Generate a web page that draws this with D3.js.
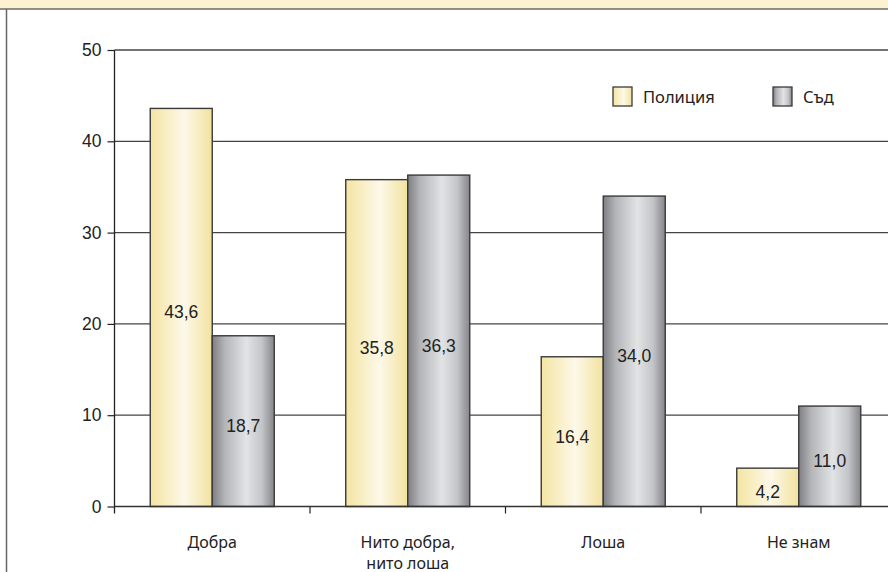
<!DOCTYPE html>
<html>
<head>
<meta charset="utf-8">
<script src="https://cdn.jsdelivr.net/npm/d3@7"></script>
<style>
  body { margin: 0; background: #fff; }
  svg { display: block; }
</style>
</head>
<body>
<div id="chart"></div>
<script>
// data
var categories = [['Добра'], ['Нито добра,', 'нито лоша'], ['Лоша'], ['Не знам']];
var seriesNames = ['Полиция', 'Съд'];
var police = [43.6, 35.8, 16.4, 4.2];
var court = [18.7, 36.3, 34.0, 11.0];
var yTicks = [0, 10, 20, 30, 40, 50];

var svgWidth = 888;
var svgHeight = 572;

var margins = { top: 50, bottom: 65.5, left: 114.5, right: -8.5 };
var height = svgHeight - margins.top - margins.bottom;
var width = svgWidth - margins.left - margins.right;

var svg = d3.select('#chart')
    .append('svg')
    .attr('width', svgWidth)
    .attr('height', svgHeight);

// gradients for the bars
var defs = svg.append('defs');
var yellowGrad = defs.append('linearGradient').attr('id', 'gradYellow');
[['0%', '#f4e5a2'], ['55%', '#fdf8e8'], ['100%', '#f2e29e']].forEach(function(s) {
    yellowGrad.append('stop').attr('offset', s[0]).attr('stop-color', s[1]);
});
var grayGrad = defs.append('linearGradient').attr('id', 'gradGray');
[['0%', '#7e7e83'], ['20%', '#b4b5b8'], ['55%', '#e2e3e5'], ['80%', '#c4c5c8'], ['100%', '#85858a']].forEach(function(s) {
    grayGrad.append('stop').attr('offset', s[0]).attr('stop-color', s[1]);
});
var fills = ['url(#gradYellow)', 'url(#gradGray)'];

// page frame: top band and left rule
svg.append('rect')
    .attr('x', 0).attr('y', 0)
    .attr('width', svgWidth).attr('height', 8.5)
    .attr('fill', '#fcf2d2');
svg.append('line')
    .attr('x1', 0).attr('x2', svgWidth)
    .attr('y1', 9).attr('y2', 9)
    .attr('stroke', '#222').attr('stroke-width', 1.2);
svg.append('line')
    .attr('x1', 6.5).attr('x2', 6.5)
    .attr('y1', 9).attr('y2', svgHeight)
    .attr('stroke', '#666').attr('stroke-width', 1.5);

var chartGroup = svg.append('g')
    .attr('transform', `translate(${margins.left}, ${margins.top})`);

// scales
var xBand = d3.scaleBand()
    .domain(d3.range(categories.length))
    .range([0, width]);

var xInner = d3.scaleBand()
    .domain(seriesNames)
    .range([35.75, xBand.bandwidth() - 35.75]);

var yLinearScale = d3.scaleLinear()
    .domain([0, 50])
    .range([height, 0]);

// gridlines
chartGroup.append('g')
    .selectAll('line')
    .data(yTicks.filter(d => d > 0))
    .enter()
    .append('line')
    .attr('x1', 0)
    .attr('x2', svgWidth - margins.left)
    .attr('y1', d => yLinearScale(d))
    .attr('y2', d => yLinearScale(d))
    .attr('stroke', '#444')
    .attr('stroke-width', 1.3);

// left axis
var leftAxis = d3.axisLeft(yLinearScale)
    .tickValues(yTicks)
    .tickSize(7)
    .tickPadding(6)
    .tickFormat(d3.format('d'));

var yAxisG = chartGroup.append('g').call(leftAxis);
yAxisG.select('.domain').remove();
yAxisG.selectAll('.tick line').attr('stroke', '#222').attr('stroke-width', 1.2);
yAxisG.selectAll('.tick text')
    .attr('fill', '#222')
    .style('font-family', '"Liberation Sans", Arial, sans-serif')
    .style('font-size', '17.5px');

chartGroup.append('line')
    .attr('x1', 0).attr('x2', 0)
    .attr('y1', 0).attr('y2', height + 7)
    .attr('stroke', '#222').attr('stroke-width', 1.3);

// category tick marks at boundaries
chartGroup.append('g')
    .selectAll('line')
    .data(d3.range(1, categories.length))
    .enter()
    .append('line')
    .attr('x1', d => xBand(d))
    .attr('x2', d => xBand(d))
    .attr('y1', height)
    .attr('y2', height + 7)
    .attr('stroke', '#222')
    .attr('stroke-width', 1.2);

// bars
var rows = [];
categories.forEach(function(c, i) {
    rows.push({ cat: i, series: seriesNames[0], value: police[i], s: 0 });
    rows.push({ cat: i, series: seriesNames[1], value: court[i], s: 1 });
});

chartGroup.selectAll('rect.bar')
    .data(rows)
    .enter()
    .append('rect')
    .attr('class', 'bar')
    .attr('x', d => xBand(d.cat) + xInner(d.series))
    .attr('y', d => yLinearScale(d.value))
    .attr('width', xInner.bandwidth())
    .attr('height', d => height - yLinearScale(d.value))
    .attr('fill', d => fills[d.s])
    .attr('stroke', '#3a3a3a')
    .attr('stroke-width', 1.4);

// zero line
chartGroup.append('line')
    .attr('x1', 0).attr('x2', svgWidth - margins.left)
    .attr('y1', height).attr('y2', height)
    .attr('stroke', '#333').attr('stroke-width', 1.3);

// value labels
chartGroup.selectAll('text.val')
    .data(rows)
    .enter()
    .append('text')
    .attr('class', 'val')
    .attr('x', d => xBand(d.cat) + xInner(d.series) + xInner.bandwidth() / 2)
    .attr('y', d => (yLinearScale(d.value) + height) / 2 + 11)
    .style('font-family', '"Liberation Sans", Arial, sans-serif')
    .style('font-size', '17.5px')
    .style('text-anchor', 'middle')
    .style('fill', '#222')
    .text(d => d.value.toFixed(1).replace('.', ','));

// category labels
var catText = chartGroup.selectAll('text.cat')
    .data(categories)
    .enter()
    .append('text')
    .attr('class', 'cat')
    .attr('x', (d, i) => xBand(i) + xBand.bandwidth() / 2)
    .attr('y', height + 41)
    .style('font-family', '"Noto Sans", sans-serif')
    .style('font-size', '16px')
    .style('text-anchor', 'middle')
    .style('fill', '#222');

catText.selectAll('tspan')
    .data(d => d)
    .enter()
    .append('tspan')
    .attr('x', function() { return d3.select(this.parentNode).attr('x'); })
    .attr('dy', (d, i) => i === 0 ? 0 : 21)
    .text(d => d);

// legend
var legend = svg.append('g')
    .attr('transform', 'translate(613, 87)');

var legendItems = legend.selectAll('g')
    .data(seriesNames)
    .enter()
    .append('g')
    .attr('transform', (d, i) => `translate(${i * 160}, 0)`);

legendItems.append('rect')
    .attr('width', 19)
    .attr('height', 19)
    .attr('fill', (d, i) => fills[i])
    .attr('stroke', '#3a3a3a')
    .attr('stroke-width', 1.3);

legendItems.append('text')
    .attr('x', 30)
    .attr('y', 15.5)
    .style('font-family', '"Noto Sans", sans-serif')
    .style('font-size', '16.5px')
    .style('fill', '#222')
    .text(d => d);
</script>
</body>
</html>
